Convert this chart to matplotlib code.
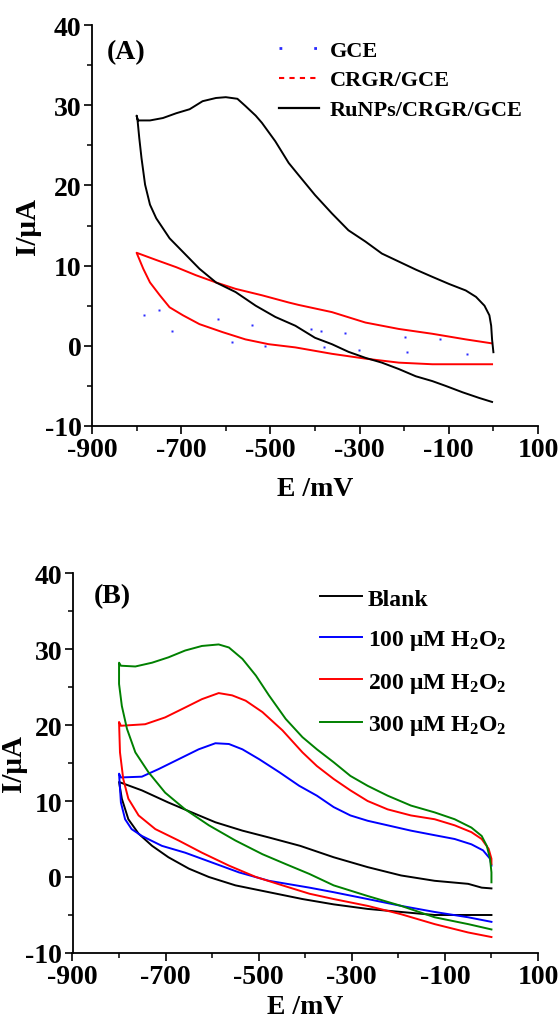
import matplotlib
matplotlib.use("Agg")
import matplotlib.pyplot as plt
from matplotlib.lines import Line2D
from matplotlib.ticker import MultipleLocator

plt.rcParams['font.family'] = ['Liberation Serif', 'DejaVu Serif']
plt.rcParams['font.weight'] = 'bold'
plt.rcParams['mathtext.default'] = 'regular'
plt.rcParams['axes.unicode_minus'] = False

# ---------------- Panel A data ----------------
gce_x = [-784, -750, -720, -618, -587, -541, -511, -410, -387, -379, -332, -302, -198, -193, -120, -60]
gce_y = [3.9, 4.5, 1.8, 3.4, 0.5, 2.6, 0.0, 2.1, 1.9, -0.1, 1.6, -0.5, 1.1, -0.75, 0.8, -1.0]

crgr_x = [-3, -137, -212, -287, -362, -444, -504, -556, -607, -659, -696, -726, -748, -770, -785, -800,
          -756, -711, -667, -622, -578, -519, -459, -437, -362, -287, -212, -137, -62, -3]
crgr_y = [-2.3, -2.3, -2.1, -1.6, -1.0, -0.2, 0.2, 0.8, 1.7, 2.7, 3.8, 4.8, 6.3, 7.9, 9.6, 11.6,
          10.7, 9.8, 8.8, 7.9, 7.1, 6.3, 5.4, 5.1, 4.2, 2.9, 2.1, 1.5, 0.8, 0.3]

ru_x = [-3, -32, -69, -107, -137, -174, -212, -250, -287, -325, -362, -400, -444, -489, -533, -578, -622,
        -659, -696, -726, -756, -770, -781, -789, -794, -798, -800,
        -797, -770, -741, -711, -681, -652, -622, -600, -574, -556, -533, -519, -489, -459, -437, -400,
        -362, -325, -287, -250, -212, -174, -137, -99, -62, -39, -20, -9, -5, -3, 0]
ru_y = [-7.0, -6.5, -5.8, -5.0, -4.4, -3.8, -2.9, -2.1, -1.5, -0.75, 0.2, 1.0, 2.5, 3.6, 5.0, 6.7, 7.9,
        9.6, 11.7, 13.4, 15.9, 17.6, 20.1, 23.4, 25.9, 28.2, 28.7,
        28.1, 28.1, 28.4, 29.0, 29.5, 30.5, 30.9, 31.0, 30.8, 29.9, 28.7, 27.8, 25.5, 22.8, 21.3, 18.8,
        16.5, 14.4, 13.0, 11.5, 10.5, 9.5, 8.6, 7.7, 6.9, 6.1, 5.0, 3.8, 2.5, 0.8, -0.8]

legend_a = ['GCE', 'CRGR/GCE', 'RuNPs/CRGR/GCE']

# ---------------- Panel B data ----------------
blank_x = [0, -122, -194, -266, -339, -406, -478, -550, -607, -650, -694, -729, -758, -780, -794, -800,
           -751, -694, -636, -593, -535, -478, -411, -339, -266, -194, -122, -50, -21, 0]
blank_y = [-5.0, -5.0, -4.6, -4.2, -3.6, -2.9, -2.0, -1.1, 0.0, 1.1, 2.6, 4.1, 5.7, 7.6, 10.3, 12.5,
           11.4, 9.8, 8.3, 7.2, 6.1, 5.2, 4.1, 2.6, 1.3, 0.2, -0.5, -0.9, -1.4, -1.5]

h100_x = [0, -50, -122, -194, -266, -339, -391, -478, -542, -600, -658, -708, -751, -773, -787, -796, -800,
          -796, -751, -715, -672, -629, -593, -564, -535, -499, -456, -413, -375, -339, -303, -266, -223,
          -173, -122, -79, -43, -18, -3, 0]
h100_y = [-5.9, -5.3, -4.6, -3.8, -2.9, -2.0, -1.4, -0.5, 0.6, 1.9, 3.2, 4.1, 5.4, 6.3, 7.6, 9.8, 13.6,
          13.1, 13.2, 14.2, 15.5, 16.8, 17.6, 17.5, 16.8, 15.5, 13.8, 12.0, 10.7, 9.2, 8.1, 7.4, 6.8,
          6.1, 5.5, 5.0, 4.3, 3.5, 2.4, 1.5]

h200_x = [0, -50, -122, -194, -266, -339, -391, -449, -506, -564, -622, -672, -722, -758, -780, -791, -798, -800,
          -796, -744, -701, -658, -622, -586, -557, -528, -492, -449, -406, -375, -339, -303, -266, -223,
          -173, -122, -79, -43, -21, -6, 0, 0]
h200_y = [-7.9, -7.3, -6.2, -4.9, -3.8, -2.9, -2.2, -1.1, 0.0, 1.5, 3.2, 4.8, 6.3, 8.1, 10.3, 12.9, 16.4, 20.4,
          19.9, 20.1, 21.0, 22.3, 23.4, 24.2, 23.9, 23.2, 21.7, 19.3, 16.4, 14.6, 12.9, 11.4, 10.0, 8.9,
          8.1, 7.6, 6.8, 5.9, 5.0, 3.7, 2.4, 1.7]

h300_x = [0, -50, -122, -194, -266, -339, -391, -442, -492, -550, -607, -658, -701, -737, -765, -783, -794, -800, -800,
          -796, -765, -729, -694, -658, -622, -586, -564, -535, -506, -478, -442, -406, -375, -339, -303, -266,
          -223, -173, -122, -79, -43, -21, -10, -3, 0, 0]
h300_y = [-6.9, -6.2, -5.3, -3.8, -2.5, -1.1, 0.4, 1.7, 3.0, 4.8, 6.8, 8.9, 11.1, 13.8, 16.4, 19.5, 22.5, 25.4, 28.2,
          27.8, 27.7, 28.2, 28.9, 29.8, 30.4, 30.6, 30.2, 28.7, 26.5, 23.9, 20.8, 18.4, 16.8, 15.1, 13.3, 12.0,
          10.7, 9.4, 8.5, 7.6, 6.5, 5.4, 4.1, 2.4, 0.6, -0.7]

legend_b = ['Blank', '100 μM H$_2$O$_2$', '200 μM H$_2$O$_2$', '300 μM H$_2$O$_2$']

x_ticks = [-900, -700, -500, -300, -100, 100]
y_ticks = [-10, 0, 10, 20, 30, 40]

W, H = 560, 1020
fig = plt.figure(figsize=(W / 100, H / 100), dpi=100)
axA = fig.add_axes([92 / W, 1 - 427 / H, 446 / W, 401 / H])
axB = fig.add_axes([72.5 / W, 1 - 954 / H, 465.5 / W, 380 / H])


def style(ax):
    ax.set_xlim(-900, 100)
    ax.set_ylim(-10, 40)
    ax.set_xticks(x_ticks)
    ax.set_yticks(y_ticks)
    ax.xaxis.set_minor_locator(MultipleLocator(100))
    ax.yaxis.set_minor_locator(MultipleLocator(5))
    for s in ['top', 'right']:
        ax.spines[s].set_visible(False)
    for s in ['left', 'bottom']:
        ax.spines[s].set_linewidth(1.3)
    ax.tick_params(which='major', direction='out', length=5.5, width=1.2, labelsize=20)
    ax.tick_params(axis='x', which='major', pad=2.5)
    ax.tick_params(axis='y', which='major', pad=2)
    ax.tick_params(which='minor', direction='out', length=3.5, width=1.1)
    for lab in ax.get_xticklabels() + ax.get_yticklabels():
        lab.set_fontweight('bold')


style(axA)
style(axB)

# Panel A
axA.plot(gce_x, gce_y, linestyle='none', marker='s', ms=2.0, color='#2a2aff', mec='none')
axA.plot(crgr_x, crgr_y, color='red', lw=1.4)
axA.plot(ru_x, ru_y, color='black', lw=1.4)
hA = [Line2D([], [], color='#2a2aff', linestyle=(0, (1, 11.5)), lw=2),
      Line2D([], [], color='red', linestyle=(0, (2.5, 2.5)), lw=1.5),
      Line2D([], [], color='black', lw=1.6)]
axA.legend(hA, legend_a, loc='upper left', bbox_to_anchor=(0.419, 0.9625), frameon=False,
           fontsize=16, handlelength=1.8, handletextpad=0.5, labelspacing=0.42, borderpad=0,
           borderaxespad=0)
axA.text(0.077, 0.933, '(A)', transform=axA.transAxes, fontsize=20, fontweight='bold',
         ha='center', va='center')
axA.set_xlabel('E /mV', fontsize=20, fontweight='bold', va='center')
axA.xaxis.set_label_coords(0.5, -0.155)
axA.set_ylabel('I/μA', fontsize=21, fontweight='bold', va='center')
axA.yaxis.set_label_coords(-0.1435, 0.5)

# Panel B
axB.plot(blank_x, blank_y, color='black', lw=1.4, label=legend_b[0])
axB.plot(h100_x, h100_y, color='blue', lw=1.4, label=legend_b[1])
axB.plot(h200_x, h200_y, color='red', lw=1.4, label=legend_b[2])
axB.plot(h300_x, h300_y, color='green', lw=1.4, label=legend_b[3])
axB.legend(loc='upper left', bbox_to_anchor=(0.532, 0.96), frameon=False,
           fontsize=17, handlelength=1.78, handletextpad=0.25, labelspacing=0.78, borderpad=0,
           borderaxespad=0)
axB.text(0.086, 0.94, '(B)', transform=axB.transAxes, fontsize=20, fontweight='bold',
         ha='center', va='center')
axB.set_xlabel('E /mV', fontsize=20, fontweight='bold', va='center')
axB.xaxis.set_label_coords(0.5, -0.14)
axB.set_ylabel('I/μA', fontsize=21, fontweight='bold', va='center')
axB.yaxis.set_label_coords(-0.127, 0.5)

fig.savefig('out.png', dpi=100)
